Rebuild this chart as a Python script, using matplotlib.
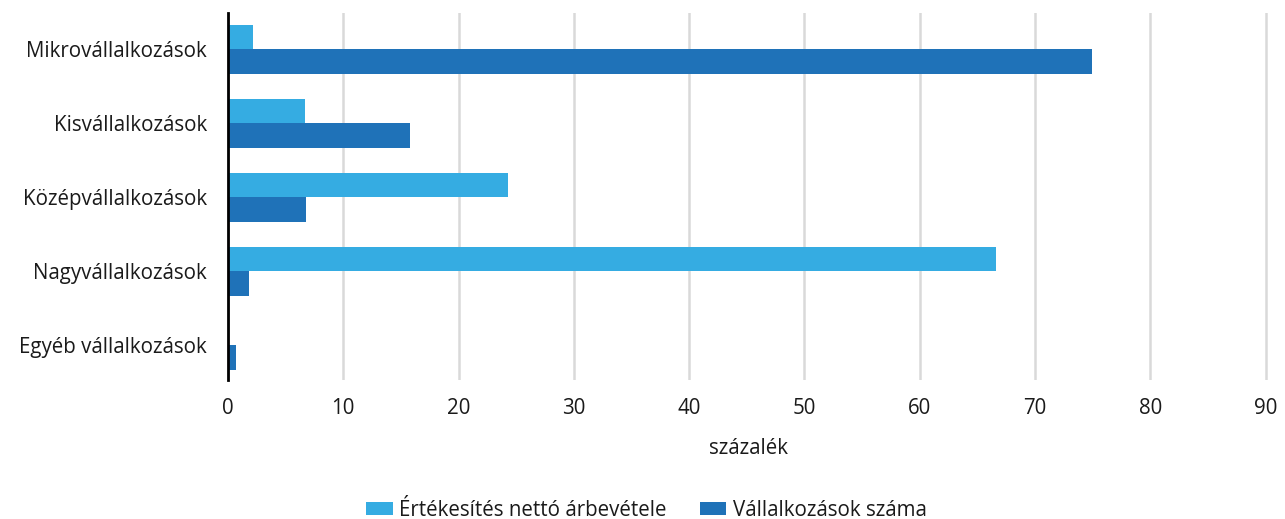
import matplotlib as mpl
import matplotlib.pyplot as plt
import numpy as np

categories = ["Mikrovállalkozások", "Kisvállalkozások", "Középvállalkozások",
              "Nagyvállalkozások", "Egyéb vállalkozások"]
arbevetel = [2.2, 6.7, 24.3, 66.6, 0.1]
szam = [74.9, 15.8, 6.8, 1.8, 0.7]
series_names = ["Értékesítés nettó árbevétele", "Vállalkozások száma"]
xticks = [0, 10, 20, 30, 40, 50, 60, 70, 80, 90]

mpl.rcParams['font.family'] = ['Open Sans', 'DejaVu Sans']
mpl.rcParams['font.size'] = 14.8

light = "#35ACE2"
dark = "#1F72B8"

fig = plt.figure(figsize=(12.85, 5.19), dpi=100)
ax = fig.add_axes([228 / 1285, 1 - 380 / 519, (1268 - 228) / 1285, (380 - 13) / 519])

y = np.arange(len(categories))
h = 0.33
ax.barh(y - h / 2, arbevetel, height=h, color=light, label=series_names[0], zorder=3)
ax.barh(y + h / 2, szam, height=h, color=dark, label=series_names[1], zorder=3)

ax.set_ylim(4.47, -0.49)
ax.set_xlim(0, 90.2)
ax.set_xticks(xticks)
ax.set_yticks(y)
ax.set_yticklabels(categories)
ax.tick_params(axis='both', length=0, colors="#1a1a1a")
ax.tick_params(axis='y', pad=15)
ax.tick_params(axis='x', pad=13)
ax.grid(axis='x', color="#D9D9D9", linewidth=1.8, zorder=0)
for s in ["top", "right", "bottom"]:
    ax.spines[s].set_visible(False)
ax.spines["left"].set_linewidth(2)
ax.spines["left"].set_color("black")
ax.spines["left"].set_zorder(4)
ax.set_xlabel("százalék", labelpad=14, color="#1a1a1a")

leg = fig.legend(loc="center", bbox_to_anchor=(0.503, 1 - 510 / 519), ncol=2, frameon=False,
                 handlelength=1.3, handleheight=0.63, handletextpad=0.3, columnspacing=1.6,
                 borderaxespad=0, borderpad=0)
for t in leg.get_texts():
    t.set_color("#1a1a1a")

fig.savefig("out.png", dpi=100)
